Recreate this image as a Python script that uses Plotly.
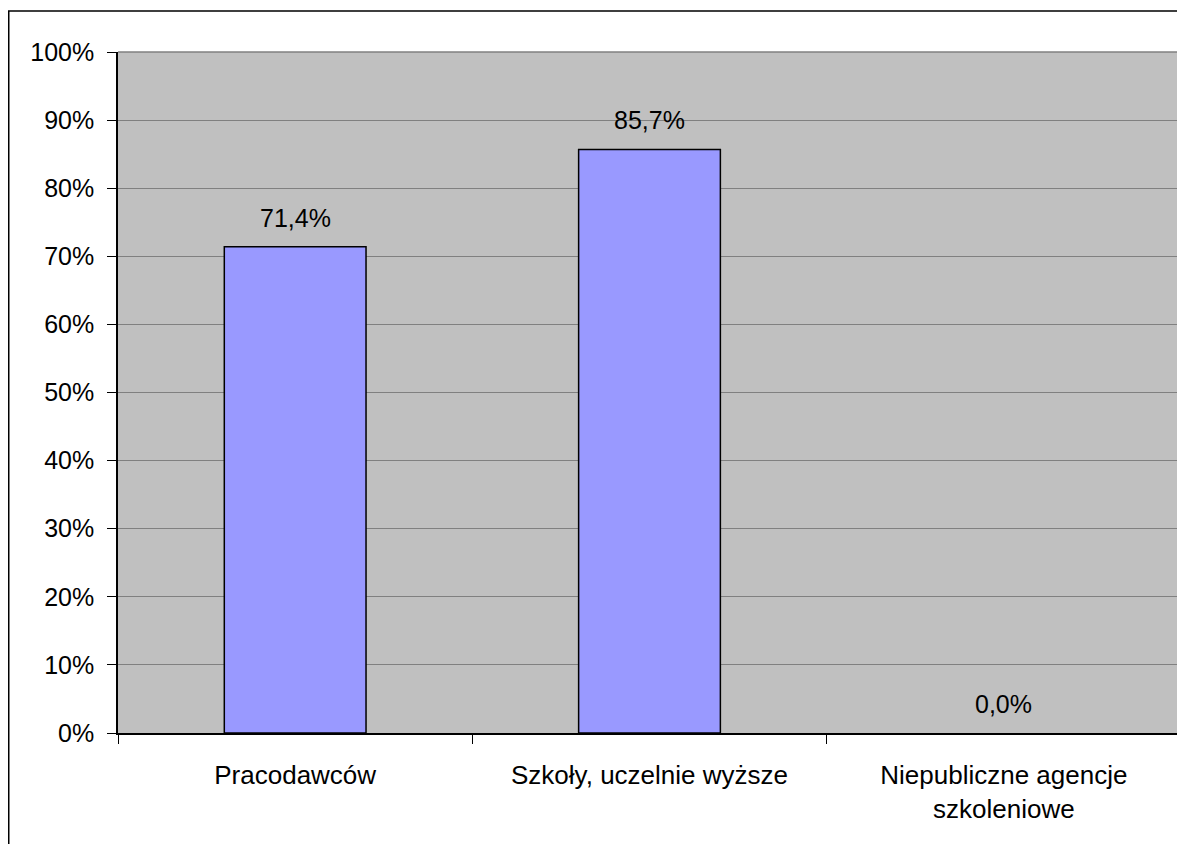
import plotly.graph_objects as go

categories = ["Pracodawców", "Szkoły, uczelnie wyższe", "Niepubliczne agencje<br>szkoleniowe"]
values = [71.4, 85.7, 0.0]
labels = ["71,4%", "85,7%", "0,0%"]
tick_vals = [0, 10, 20, 30, 40, 50, 60, 70, 80, 90, 100]
tick_text = [f"{v}%" for v in tick_vals]

# page body has an 8px margin; compensate
OFF = 8
W, H = 1185 - OFF, 844 - OFF
ml, mr, mt, mb = 118 - OFF, 4, 52 - OFF, 111
pw, ph = W - ml - mr, H - mt - mb

FAM = "Liberation Sans, Arial, sans-serif"
font = dict(family=FAM, size=25, color="#000000")
catfont = dict(family=FAM, size=26, color="#000000")

fig = go.Figure(go.Bar(
    x=categories, y=values,
    marker=dict(color="#9999FF",
                line=dict(color="#000000", width=[1.5 if v > 0 else 0 for v in values])),
    width=0.4, hoverinfo="x+y",
))

for c, v, t in zip(categories, values, labels):
    fig.add_annotation(x=c, y=v, text=t, showarrow=False, yanchor="bottom",
                       yshift=13, font=font)

fig.update_layout(
    width=W, height=H,
    margin=dict(l=ml, r=mr, t=mt, b=mb, pad=0),
    paper_bgcolor="#FFFFFF", plot_bgcolor="#C0C0C0",
    font=font, showlegend=False, bargap=0.6,
    xaxis=dict(type="category", tickson="boundaries", ticks="outside", ticklen=9,
               tickcolor="#000000", tickwidth=1, showgrid=False,
               showline=True, linecolor="#000000", linewidth=1.5,
               tickfont=catfont, range=[-0.5, 2.5], ticklabelstandoff=18),
    yaxis=dict(range=[0, 100], tickvals=tick_vals, ticktext=tick_text,
               ticks="outside", ticklen=9, tickcolor="#000000", tickwidth=1,
               showgrid=True, gridcolor="#808080", gridwidth=1,
               showline=True, linecolor="#000000", linewidth=1.5,
               tickfont=font, zeroline=False, ticklabelstandoff=8),
    shapes=[
        dict(type="line", xref="paper", yref="paper", x0=0, x1=1, y0=1, y1=1,
             line=dict(color="#808080", width=1.5), layer="above"),
        dict(type="line", xref="paper", yref="paper", x0=1, x1=1, y0=0, y1=1,
             line=dict(color="#808080", width=2), layer="above"),
        dict(type="rect", xref="paper", yref="paper",
             x0=(0.75 - ml) / pw, x1=(W + 20 - ml) / pw,
             y0=-(H + 20 - mt - ph) / ph, y1=(H - (11 - OFF) - mb) / ph,
             line=dict(color="#000000", width=1.5), layer="above"),
    ],
)

fig.write_html("out.html")
